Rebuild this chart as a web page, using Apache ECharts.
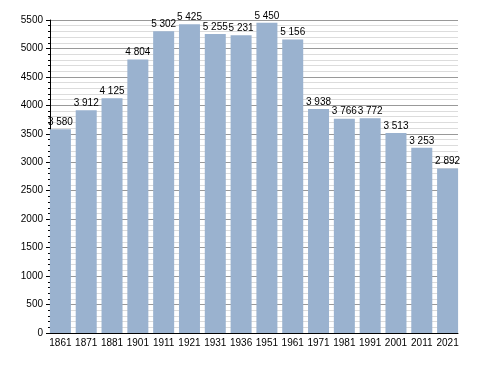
<!DOCTYPE html>
<html><head><meta charset="utf-8">
<script src="https://cdn.jsdelivr.net/npm/echarts@6/dist/echarts.min.js"></script>
<style>html,body{margin:0;padding:0;background:#fff}#c{width:488px;height:373px}</style>
</head><body><div id="c"></div>
<script>
const years = ['1861','1871','1881','1901','1911','1921','1931','1936','1951','1961','1971','1981','1991','2001','2011','2021'];
const population = [3580,3912,4125,4804,5302,5425,5255,5231,5450,5156,3938,3766,3772,3513,3253,2892];
const yTicks = {min:0, max:5500, interval:500};

function fmt(v){ return String(v).replace(/\B(?=(\d{3})+(?!\d))/g, ' '); }
const FF = 'Liberation Sans, Arial, sans-serif';

const chart = echarts.init(document.getElementById('c'), null, {renderer:'canvas'});
chart.setOption({
  animation:false,
  textStyle:{fontFamily:FF},
  grid:[
    {left:50, right:30, top:20, bottom:40, containLabel:false},
    {left:47.5, right:27.5, top:20, bottom:40, containLabel:false}
  ],
  xAxis:[
    {gridIndex:0, type:'category', data:years,
      axisLine:{lineStyle:{color:'#000', width:1}},
      axisTick:{show:false}, axisLabel:{show:false}},
    {gridIndex:1, type:'category', data:years,
      axisLine:{show:false},
      axisTick:{show:false},
      axisLabel:{color:'#000', fontSize:10, margin:5, interval:0, fontFamily:FF}}
  ],
  yAxis:[
    {gridIndex:0, type:'value', min:yTicks.min, max:yTicks.max, interval:yTicks.interval,
      axisLine:{show:true, lineStyle:{color:'#000', width:1}},
      axisTick:{show:true, length:4, lineStyle:{color:'#000'}},
      minorTick:{show:true, splitNumber:5, length:2, lineStyle:{color:'#000'}},
      axisLabel:{color:'#000', fontSize:10, margin:7, fontFamily:FF, formatter:v=>String(v)},
      splitLine:{show:true, lineStyle:{color:'#999', width:1}},
      minorSplitLine:{show:true, lineStyle:{color:'#dcdcdc', width:1}}},
    {gridIndex:1, type:'value', min:yTicks.min, max:yTicks.max, interval:yTicks.interval,
      show:false, splitLine:{show:false}}
  ],
  series:[{
    type:'bar', xAxisIndex:1, yAxisIndex:1, data:population, barWidth:21,
    itemStyle:{color:'#9ab2cf'},
    label:{show:true, position:'top', distance:2, color:'#000', fontSize:10,
      fontFamily:FF, formatter:p=>fmt(p.value)}
  }]
});
</script></body></html>
